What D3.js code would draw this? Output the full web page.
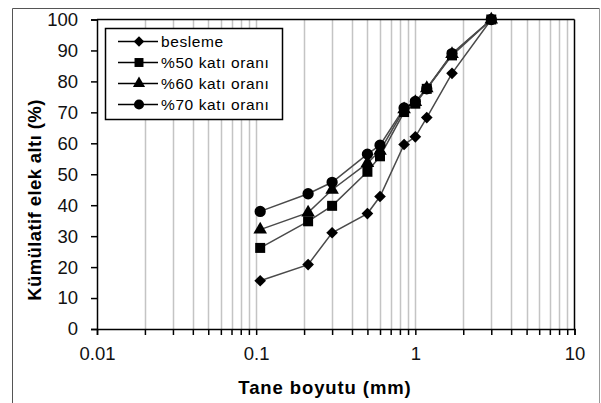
<!DOCTYPE html>
<html><head><meta charset="utf-8">
<script src="https://cdn.jsdelivr.net/npm/d3@7"></script>
<style>
body{margin:0;background:#fff;}
svg{display:block;font-family:"Liberation Sans",Arial,sans-serif;}
</style></head>
<body><svg id="c" width="601" height="403"></svg>
<script>
const sizes = [0.106, 0.212, 0.3, 0.5, 0.6, 0.85, 1.0, 1.18, 1.7, 3.0];
const besleme = [15.6, 20.8, 31.1, 37.3, 42.8, 59.6, 62.1, 68.3, 82.6, 100];
const kati50 = [26.2, 34.8, 39.8, 50.8, 55.8, 70.1, 72.8, 77.6, 88.4, 100];
const kati60 = [32.1, 37.6, 45.0, 53.6, 57.6, 71.0, 73.3, 77.8, 88.8, 100];
const kati70 = [38.0, 43.7, 47.4, 56.5, 59.4, 71.4, 73.5, 77.6, 89.0, 100];
const seriesNames = ["besleme", "%50 katı oranı", "%60 katı oranı", "%70 katı oranı"];
const yTicks = [0,10,20,30,40,50,60,70,80,90,100];
const xTickLabels = ["0.01","0.1","1","10"];

const svg = d3.select("#c");
const L = 97, R = 574.5, T = 19.5, B = 329;
const x = d3.scaleLog().domain([0.01, 10]).range([L, R]);
const y = d3.scaleLinear().domain([0, 100]).range([B, T]);

// outer frame
svg.append("line").attr("x1",12.5).attr("x2",12.5).attr("y1",8.5).attr("y2",403).attr("stroke","#555").attr("stroke-width",1);
svg.append("line").attr("x1",12.5).attr("x2",599.5).attr("y1",8.5).attr("y2",8.5).attr("stroke","#555").attr("stroke-width",1);
svg.append("line").attr("x1",599.5).attr("x2",599.5).attr("y1",8.5).attr("y2",403).attr("stroke","#999").attr("stroke-width",1);

// grid values (minor + major)
const gridVals = [];
for (let d of [0.01, 0.1, 1]) for (let k = 1; k <= 9; k++) { const v = d*k; if (v > 0.01) gridVals.push(v); }
svg.append("g").selectAll("line").data(gridVals).join("line")
  .attr("x1", d => Math.round(x(d))+0.5).attr("x2", d => Math.round(x(d))+0.5)
  .attr("y1", T).attr("y2", B)
  .attr("stroke", "#c4c4c4").attr("stroke-width", 1.5);

// plot frame top and right
svg.append("line").attr("x1",L).attr("x2",R).attr("y1",T).attr("y2",T).attr("stroke","#000").attr("stroke-width",1.5);
svg.append("line").attr("x1",R).attr("x2",R).attr("y1",T).attr("y2",B).attr("stroke","#000").attr("stroke-width",1.5);

// axes
const yAxis = d3.axisLeft(y).tickValues(yTicks).tickSize(6).tickPadding(13).tickFormat(d3.format("d"));
const gy = svg.append("g").attr("transform", `translate(${L},0)`).call(yAxis);
gy.select(".domain").attr("stroke","#000").attr("stroke-width",1.5);
gy.selectAll(".tick line").attr("stroke","#000").attr("stroke-width",1.5);
gy.selectAll("text").attr("font-size",18.5).attr("fill","#111").attr("font-family","Liberation Sans, Arial, sans-serif");

const allX = [0.01].concat(gridVals).concat([10]);
const xAxis = d3.axisBottom(x).tickValues(allX).tickSize(6).tickPadding(12)
  .tickFormat(d => { const i = [0.01,0.1,1,10].findIndex(v => Math.abs(v-d) < 1e-9); return i >= 0 ? xTickLabels[i] : ""; });
const gx = svg.append("g").attr("transform", `translate(0,${B})`).call(xAxis);
gx.select(".domain").attr("stroke","#000").attr("stroke-width",1.5);
gx.selectAll(".tick line").attr("stroke","#000").attr("stroke-width",1.5);
gx.selectAll("text").attr("font-size",18.5).attr("fill","#111").attr("font-family","Liberation Sans, Arial, sans-serif");

// axis titles
svg.append("text").attr("x", 325).attr("y", 394).attr("text-anchor","middle")
  .attr("font-size",18.5).attr("font-weight","bold").attr("letter-spacing",0.9).text("Tane boyutu (mm)");
svg.append("text").attr("transform","translate(41,200) rotate(-90)").attr("text-anchor","middle")
  .attr("font-size",18.5).attr("font-weight","bold").attr("letter-spacing",0.4).text("Kümülatif elek altı (%)");

// series
const data = [besleme, kati50, kati60, kati70];
const symbols = [d3.symbolSquare, d3.symbolSquare, d3.symbolTriangle, d3.symbolCircle];
const symRot = [45, 0, 0, 0];
const symSizes = [68, 100, 80, 100];
const line = d3.line().x((d,i) => x(sizes[i])).y(d => y(d));
data.forEach((vals, s) => {
  svg.append("path").attr("d", line(vals)).attr("fill","none").attr("stroke","#4a4a4a").attr("stroke-width",1.5);
});
data.forEach((vals, s) => {
  svg.append("g").selectAll("path").data(vals).join("path")
    .attr("transform", (d,i) => `translate(${x(sizes[i])},${y(d)}) rotate(${symRot[s]})`)
    .attr("d", d3.symbol().type(symbols[s]).size(symSizes[s]))
    .attr("fill","#000");
});

// legend
const lg = svg.append("g");
lg.append("rect").attr("x",105.5).attr("y",28.5).attr("width",177).attr("height",91)
  .attr("fill","#fff").attr("stroke","#000").attr("stroke-width",1.5);
const rowsY = [41.5, 62.5, 83.5, 104.5];
seriesNames.forEach((n, s) => {
  lg.append("line").attr("x1",118).attr("x2",158).attr("y1",rowsY[s]).attr("y2",rowsY[s]).attr("stroke","#000").attr("stroke-width",1.5);
  lg.append("path").attr("transform",`translate(139,${rowsY[s]}) rotate(${symRot[s]})`).attr("d", d3.symbol().type(symbols[s]).size(symSizes[s]*0.8)).attr("fill","#000");
  lg.append("text").attr("x",161).attr("y",rowsY[s]+5.5).attr("font-size",15.5).attr("letter-spacing",0.6).text(n);
});
</script></body></html>
